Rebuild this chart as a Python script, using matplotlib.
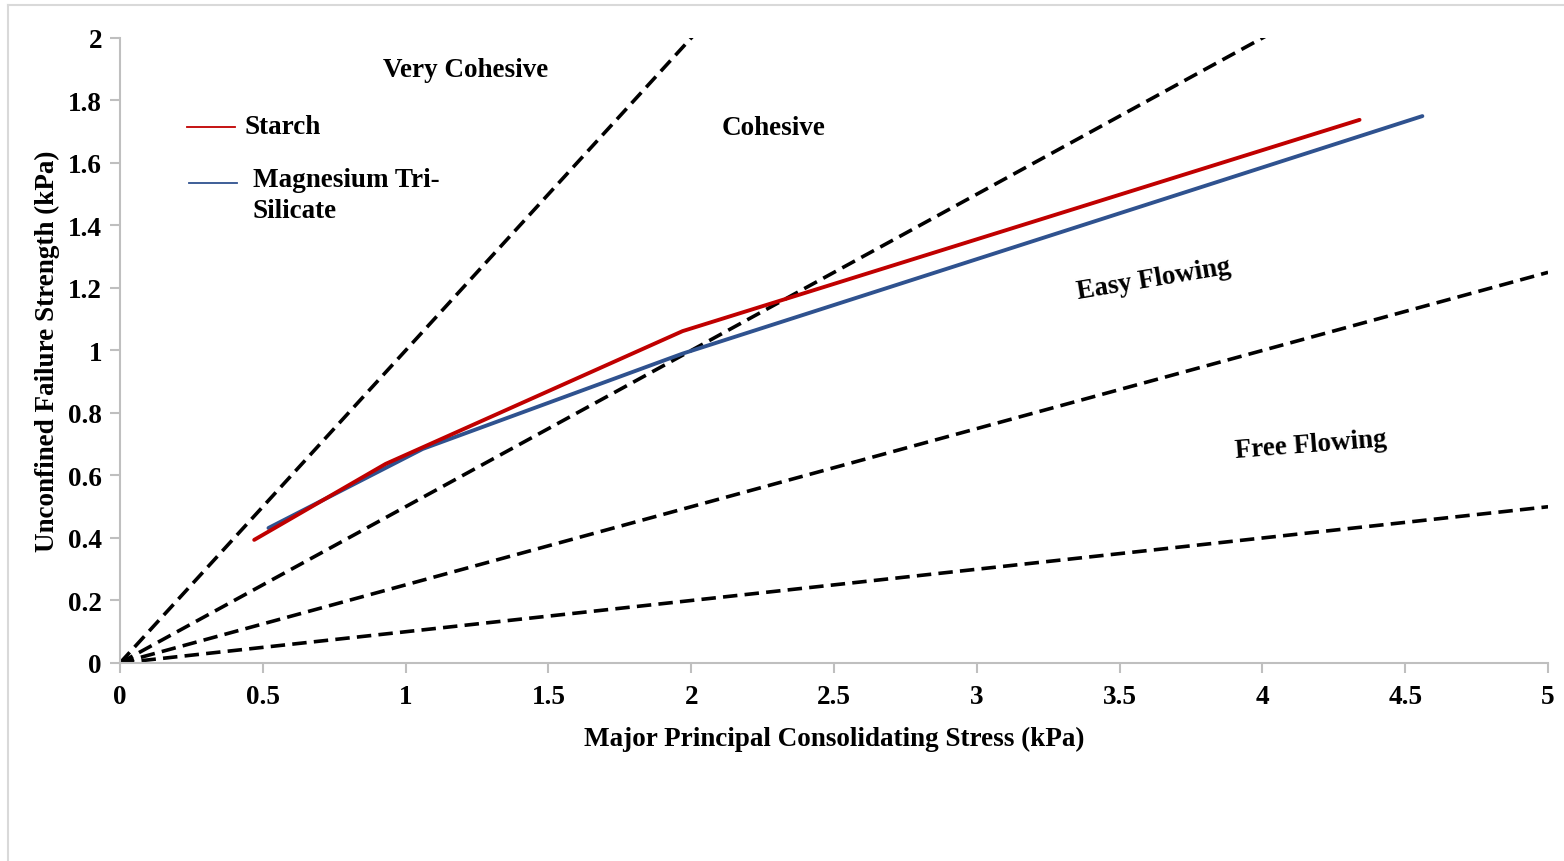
import matplotlib.pyplot as plt
from matplotlib.lines import Line2D

plt.rcParams['font.family'] = ['Liberation Serif', 'DejaVu Serif']
plt.rcParams['font.weight'] = 'bold'

# data
starch_x = [0.47, 0.93, 1.97, 4.34]
starch_y = [0.394, 0.637, 1.062, 1.738]
mts_x = [0.52, 1.06, 1.97, 4.56]
mts_y = [0.432, 0.685, 0.99, 1.75]

# flow function boundaries ffc = 1, 2, 4, 10
ffc_values = [1, 2, 4, 10]
sigma_range = [0, 5]

regions = ['Very Cohesive', 'Cohesive', 'Easy Flowing', 'Free Flowing']
region_x = [1.21, 2.29, 3.62, 4.17]
region_y = [1.90, 1.715, 1.23, 0.70]
region_rot = [0, 0, 9.5, 4.5]

FS = 19.5
RED = '#C00000'
BLUE = '#2F528F'

fig = plt.figure(figsize=(15.64, 8.62), dpi=100)
ax = fig.add_axes([0.0767, 0.2297, 0.9131, 0.7251])

for ffc in ffc_values:
    ax.plot(sigma_range, [s / ffc for s in sigma_range], color='black',
            lw=2.6, linestyle=(0, (4, 2)), zorder=2)

ax.plot(starch_x, starch_y, color=RED, lw=2.8, solid_capstyle='round', zorder=4)
ax.plot(mts_x, mts_y, color=BLUE, lw=2.8, solid_capstyle='round', zorder=3)

for txt, x, y, r in zip(regions, region_x, region_y, region_rot):
    ax.text(x, y, txt, fontsize=FS, fontweight='bold', ha='center', va='center',
            rotation=r, rotation_mode='anchor')

# legend drawn by hand (the entry text sits beside the line like in the original)
ta = ax.transAxes
ax.add_line(Line2D([0.0469, 0.0805], [0.8576, 0.8576], transform=ta, color=RED, lw=1.3))
ax.text(0.0875, 0.8576, 'Starch', transform=ta, fontsize=FS, fontweight='bold',
        ha='left', va='center')
ax.add_line(Line2D([0.0483, 0.0819], [0.768, 0.768], transform=ta, color=BLUE, lw=1.3))
ax.text(0.0931, 0.7728, 'Magnesium Tri-', transform=ta, fontsize=FS, fontweight='bold',
        ha='left', va='center')
ax.text(0.0931, 0.7232, 'Silicate', transform=ta, fontsize=FS, fontweight='bold',
        ha='left', va='center')

ax.set_xlim(0, 5)
ax.set_ylim(0, 2)
ax.set_xticks([0, 0.5, 1, 1.5, 2, 2.5, 3, 3.5, 4, 4.5, 5])
ax.set_xticklabels(['0', '0.5', '1', '1.5', '2', '2.5', '3', '3.5', '4', '4.5', '5'])
ax.set_yticks([0, 0.2, 0.4, 0.6, 0.8, 1, 1.2, 1.4, 1.6, 1.8, 2])
ax.set_yticklabels(['0', '0.2', '0.4', '0.6', '0.8', '1', '1.2', '1.4', '1.6', '1.8', '2'])

for s in ['top', 'right']:
    ax.spines[s].set_visible(False)
for s in ['left', 'bottom']:
    ax.spines[s].set_color('#BFBFBF')
    ax.spines[s].set_linewidth(1.5)
ax.tick_params(axis='both', colors='#BFBFBF', width=1.5, length=7, labelsize=FS,
               labelcolor='black')
ax.tick_params(axis='x', pad=8)
ax.tick_params(axis='y', pad=6)
for lbl in ax.get_xticklabels() + ax.get_yticklabels():
    lbl.set_fontweight('bold')

ax.set_xlabel('Major Principal Consolidating Stress (kPa)', fontsize=FS,
              fontweight='bold', labelpad=12)
ax.set_ylabel('Unconfined Failure Strength (kPa)', fontsize=FS,
              fontweight='bold', labelpad=6)

# light frame around the chart area
fig.add_artist(Line2D([8 / 1564, 1], [1 - 6 / 862, 1 - 6 / 862],
                      transform=fig.transFigure, color='#D9D9D9', lw=1.5))
fig.add_artist(Line2D([8 / 1564, 8 / 1564], [0, 1 - 6 / 862],
                      transform=fig.transFigure, color='#D9D9D9', lw=1.5))

fig.savefig('out.png', dpi=100)
